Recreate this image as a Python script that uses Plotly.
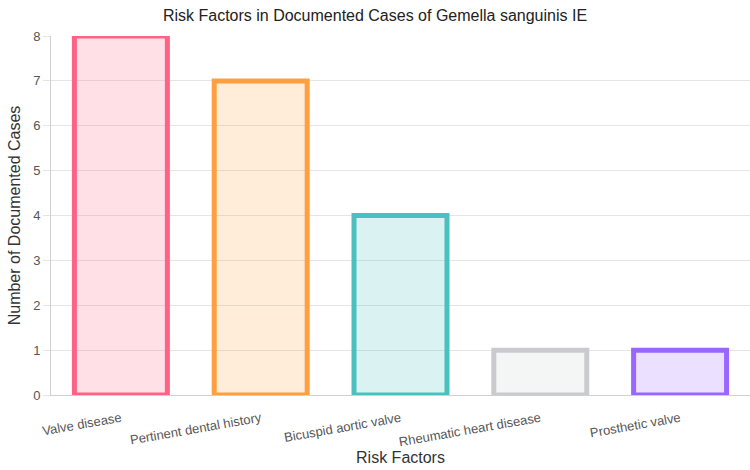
import plotly.graph_objects as go

categories = ["Valve disease", "Pertinent dental history", "Bicuspid aortic valve",
              "Rheumatic heart disease", "Prosthetic valve"]
cases = [8, 7, 4, 1, 1]
border_colors = ["rgb(255,99,132)", "rgb(255,159,64)", "rgb(75,192,192)",
                 "rgb(201,203,207)", "rgb(153,102,255)"]
fill_colors = ["rgba(255,99,132,0.2)", "rgba(255,159,64,0.2)", "rgba(75,192,192,0.2)",
               "rgba(201,203,207,0.2)", "rgba(153,102,255,0.2)"]

fig = go.Figure(go.Bar(
    x=categories, y=cases,
    marker=dict(color=fill_colors, line=dict(color=border_colors, width=5)),
    width=0.665,
))

font = "Liberation Sans, Arial, sans-serif"
fig.update_layout(
    width=750, height=470,
    margin=dict(l=51, r=0, t=36, b=75),
    paper_bgcolor="white", plot_bgcolor="white",
    font=dict(family=font, color="#666", size=13),
    title=dict(text="Risk Factors in Documented Cases of Gemella sanguinis IE",
               x=0.5, xanchor="center", y=0.968, yanchor="middle",
               font=dict(size=16, color="#222")),
    showlegend=False,
)
fig.update_xaxes(
    title=dict(text="Risk Factors", font=dict(size=16, color="#333"), standoff=2),
    tickangle=-10, showgrid=False, showline=True, linecolor="#d0d0d0", linewidth=1,
    ticks="", ticklabelstandoff=10, tickfont=dict(size=13, color="#555"),
    automargin=False,
)
fig.update_yaxes(
    title=dict(text="Number of Documented Cases", font=dict(size=16, color="#333"), standoff=8),
    range=[0, 8], dtick=1, showgrid=True, gridcolor="#e5e5e5", gridwidth=1,
    showline=True, linecolor="#d0d0d0", linewidth=1,
    ticks="outside", ticklen=7, tickcolor="#e5e5e5",
    tickfont=dict(size=13, color="#555"), zeroline=False, automargin=False,
)

fig.write_html("out.html")
